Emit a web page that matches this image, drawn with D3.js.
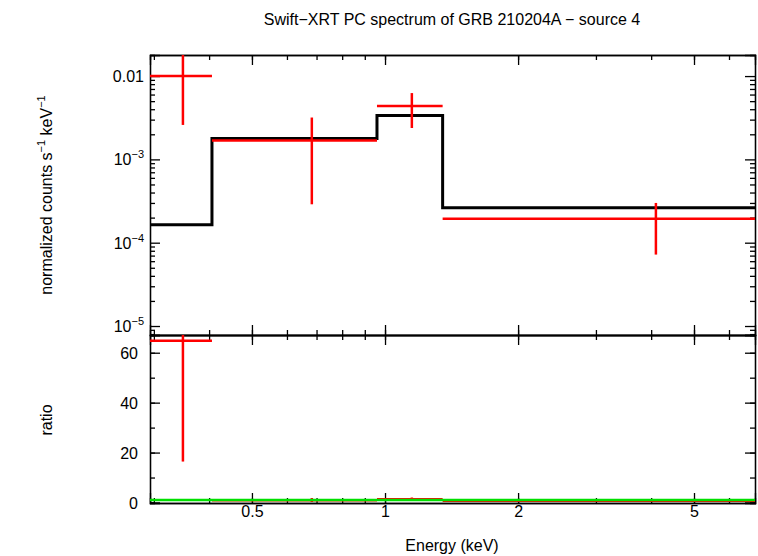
<!DOCTYPE html>
<html><head><meta charset="utf-8">
<script src="https://cdn.jsdelivr.net/npm/d3@7"></script>
<style>body{margin:0;background:#fff}text{font-family:"Liberation Sans",Arial,sans-serif}</style>
</head><body><div id="chart"></div>
<script>
// data
const binLo = [0.294, 0.406, 0.959, 1.35];
const binHi = [0.406, 0.959, 1.35, 6.87];
const binMid = [0.349, 0.683, 1.15, 4.1];
const rate = [0.0100, 0.00169, 0.00438, 1.94e-4];
const rateHi = [0.02, 0.00318, 0.00625, 3.0e-4];
const rateLo = [0.00259, 2.89e-4, 0.00238, 7.2e-5];
const model = [1.64e-4, 1.78e-3, 3.36e-3, 2.62e-4];
const ratio = [64.8, 0.95, 1.3, 0.74];
const ratioHi = [90, 1.8, 2.0, 1.1];
const ratioLo = [16.4, 0.2, 0.7, 0.3];
const xTicks = [0.5, 1, 2, 5];
const yTopTicks = [0.01, 1e-3, 1e-4, 1e-5];
const yBotTicks = [0, 20, 40, 60];

const width = 758, height = 556,
      m = {left: 150, right: 3, top: 55, mid: 335, bottom: 503};

const svg = d3.select("#chart").append("svg")
    .attr("width", width).attr("height", height);

const x = d3.scaleLog().domain([0.294, 6.87]).range([m.left, width - m.right]);
const yT = d3.scaleLog().domain([7.8e-6, 0.0179]).range([m.mid, m.top]);
const yB = d3.scaleLinear().domain([-0.2, 67.1]).range([m.bottom, m.mid]);

const clipT = svg.append("clipPath").attr("id", "ct").append("rect")
    .attr("x", m.left).attr("y", m.top).attr("width", width - m.right - m.left).attr("height", m.mid - m.top);
const clipB = svg.append("clipPath").attr("id", "cb").append("rect")
    .attr("x", m.left).attr("y", m.mid).attr("width", width - m.right - m.left).attr("height", m.bottom - m.mid);

const xMinor = [0.3,0.4,0.5,0.6,0.7,0.8,0.9,1,2,3,4,5,6];

function xAxes(yTop, yBot, labels) {
    svg.append("g").attr("transform", `translate(0,${yBot})`)
        .call(d3.axisBottom(x).tickValues(xMinor).tickSize(-5).tickFormat(""));
    svg.append("g").attr("transform", `translate(0,${yBot})`)
        .call(d3.axisBottom(x).tickValues(xTicks).tickSize(-10).tickFormat(labels ? d => d : ""));
    svg.append("g").attr("transform", `translate(0,${yTop})`)
        .call(d3.axisTop(x).tickValues(xMinor).tickSize(-5).tickFormat(""));
    svg.append("g").attr("transform", `translate(0,${yTop})`)
        .call(d3.axisTop(x).tickValues(xTicks).tickSize(-10).tickFormat(""));
}
xAxes(m.top, m.mid, false);
xAxes(m.mid, m.bottom, true);

// top y axis
const yMinor = [];
for (let e = -6; e <= -2; e++) for (let k = 2; k <= 9; k++) {
    const v = k * Math.pow(10, e);
    if (v > 7.8e-6 && v < 0.0179) yMinor.push(v);
}
[[d3.axisRight, m.left], [d3.axisLeft, width - m.right]].forEach(([ax, px]) => {
    svg.append("g").attr("transform", `translate(${px},0)`)
        .call(ax(yT).tickValues(yMinor).tickSize(5).tickFormat(""));
    svg.append("g").attr("transform", `translate(${px},0)`)
        .call(ax(yT).tickValues(yTopTicks).tickSize(10).tickFormat(""));
    svg.append("g").attr("transform", `translate(${px},0)`)
        .call(ax(yB).tickValues(d3.range(0, 67, 10)).tickSize(5).tickFormat(""));
    svg.append("g").attr("transform", `translate(${px},0)`)
        .call(ax(yB).tickValues(yBotTicks).tickSize(10).tickFormat(""));
});
svg.selectAll(".domain, .tick line").attr("stroke", "#000").attr("stroke-width", 1.3);
svg.selectAll(".tick text").attr("font-size", 16).attr("fill", "#000");

// top y labels
const supMap = {"-3": "−3", "-4": "−4", "-5": "−5"};
yTopTicks.forEach(v => {
    const t = svg.append("text").attr("x", m.left - 6).attr("y", yT(v) + 6)
        .attr("text-anchor", "end").attr("font-size", 16);
    if (v === 0.01) t.text("0.01");
    else {
        const e = Math.round(Math.log10(v));
        t.append("tspan").text("10");
        t.append("tspan").attr("dy", -7).attr("font-size", 11).text(supMap[e]);
    }
});
yBotTicks.forEach(v => {
    svg.append("text").attr("x", m.left - 12).attr("y", yB(v) + 6)
        .attr("text-anchor", "end").attr("font-size", 16).text(v);
});

// model step
const gT = svg.append("g").attr("clip-path", "url(#ct)");
const stepPts = [];
model.forEach((v, i) => { stepPts.push([binLo[i], v], [binHi[i], v]); });
gT.append("path").attr("d", d3.line().x(d => x(d[0])).y(d => yT(d[1]))(stepPts))
    .attr("fill", "none").attr("stroke", "#000").attr("stroke-width", 3);

// data crosses
function crosses(g, y, vals, lo, hi) {
    vals.forEach((v, i) => {
        g.append("line").attr("x1", x(binLo[i])).attr("x2", x(binHi[i]))
            .attr("y1", y(v)).attr("y2", y(v)).attr("stroke", "red").attr("stroke-width", 2.5);
        g.append("line").attr("x1", x(binMid[i])).attr("x2", x(binMid[i]))
            .attr("y1", y(lo[i])).attr("y2", y(hi[i])).attr("stroke", "red").attr("stroke-width", 2.5);
    });
}
crosses(gT, yT, rate, rateLo, rateHi);

const gB = svg.append("g").attr("clip-path", "url(#cb)");
crosses(gB, yB, ratio, ratioLo, ratioHi);
gB.append("line").attr("x1", m.left).attr("x2", width - m.right)
    .attr("y1", yB(1)).attr("y2", yB(1)).attr("stroke", "#00e000").attr("stroke-width", 2.5);

// text
svg.append("text").attr("x", 452).attr("y", 25).attr("text-anchor", "middle")
    .attr("font-size", 16).text("Swift−XRT PC spectrum of GRB 210204A − source 4");
svg.append("text").attr("x", 452).attr("y", 551).attr("text-anchor", "middle")
    .attr("font-size", 16).text("Energy (keV)");
const yl = svg.append("text").attr("transform", "translate(52,195) rotate(-90)")
    .attr("text-anchor", "middle").attr("font-size", 16);
yl.append("tspan").text("normalized counts s");
yl.append("tspan").attr("dy", -7).attr("font-size", 11).text("−1");
yl.append("tspan").attr("dy", 7).text(" keV");
yl.append("tspan").attr("dy", -7).attr("font-size", 11).text("−1");
svg.append("text").attr("transform", "translate(52,420) rotate(-90)")
    .attr("text-anchor", "middle").attr("font-size", 16).text("ratio");
</script></body></html>
